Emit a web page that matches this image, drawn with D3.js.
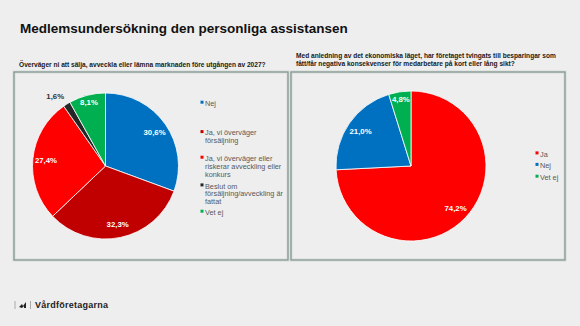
<!DOCTYPE html>
<html>
<head>
<meta charset="utf-8">
<script src="https://cdn.jsdelivr.net/npm/d3@7"></script>
<style>
  html, body { margin: 0; padding: 0; background: #eeeeee; }
  svg { display: block; font-family: "Liberation Sans", Arial, sans-serif; }
</style>
</head>
<body>
<svg id="chart" width="580" height="326"></svg>
<script>
// Survey results: two pie charts
const title = "Medlemsundersökning den personliga assistansen";

const leftQuestion = ["Överväger ni att sälja, avveckla eller lämna marknaden före utgången av 2027?"];
const leftCategories = [
  ["Nej"],
  ["Ja, vi överväger", "försäljning"],
  ["Ja, vi överväger eller", "riskerar avveckling eller", "konkurs"],
  ["Beslut om", "försäljning/avveckling är", "fattat"],
  ["Vet ej"]
];
const leftValues = [30.6, 32.3, 27.4, 1.6, 8.1];
const leftColors = ["#0070c0", "#c00000", "#ff0000", "#262626", "#00b050"];

const rightQuestion = [
  "Med anledning av det ekonomiska läget, har företaget tvingats till besparingar som",
  "fått/får negativa konsekvenser för medarbetare på kort eller lång sikt?"
];
const rightCategories = [["Ja"], ["Nej"], ["Vet ej"]];
const rightValues = [74.2, 21.0, 4.8];
const rightColors = ["#ff0000", "#0070c0", "#00b050"];

const svg = d3.select("#chart");
const fmt = v => d3.format(".1f")(v).replace(".", ",") + "%";

// Heading
svg.append("text")
  .attr("x", 20).attr("y", 33)
  .attr("font-size", 13.5).attr("font-weight", "bold").attr("fill", "#111")
  .text(title);

function drawPanel(opts) {
  const g = svg.append("g");
  // frame
  g.append("rect")
    .attr("x", opts.box[0]).attr("y", opts.box[1])
    .attr("width", opts.box[2]).attr("height", opts.box[3])
    .attr("fill", "none").attr("stroke", "#d6dcda").attr("stroke-width", 3);
  g.append("rect")
    .attr("x", opts.box[0]).attr("y", opts.box[1])
    .attr("width", opts.box[2]).attr("height", opts.box[3])
    .attr("fill", "none").attr("stroke", "#7f948e").attr("stroke-width", 1.2);

  // question text
  g.selectAll("text.q").data(opts.question).join("text")
    .attr("class", "q")
    .attr("x", opts.qx)
    .attr("y", (d, i) => opts.qy + i * 8.8)
    .attr("font-size", 6.6).attr("font-weight", "bold").attr("fill", "#1a1a1a")
    .text(d => d);

  const pie = d3.pie().sort(null).value(d => d)(opts.values);
  const arc = d3.arc().innerRadius(0).outerRadius(opts.r);
  const pg = g.append("g").attr("transform", `translate(${opts.cx},${opts.cy})`);
  pg.selectAll("path").data(pie).join("path")
    .attr("d", arc)
    .attr("fill", (d, i) => opts.colors[i])
    .attr("stroke", "#ffffff").attr("stroke-width", 0.8);

  // value labels
  pg.selectAll("text.v").data(pie).join("text")
    .attr("class", "v")
    .each(function (d) {
      const share = d.data / 100;
      const mid = (d.startAngle + d.endAngle) / 2;
      const t = d3.select(this);
      if (share < 0.03) {
        const rr = opts.r * 1.12;
        t.attr("x", Math.sin(mid) * rr + 2).attr("y", -Math.cos(mid) * rr + 2.5)
          .attr("text-anchor", "end").attr("fill", "#333");
      } else {
        const rr = opts.r * (share < 0.1 ? 0.9 : 0.82);
        t.attr("x", Math.sin(mid) * rr).attr("y", -Math.cos(mid) * rr + 2.8)
          .attr("text-anchor", "middle").attr("fill", "#ffffff");
      }
    })
    .attr("font-size", 7.8).attr("font-weight", "bold")
    .text(d => fmt(d.data));

  // legend
  const lg = g.append("g");
  opts.categories.forEach((lines, i) => {
    const y0 = opts.legendY[i];
    lg.append("rect")
      .attr("x", opts.lx - 4.5).attr("y", y0 - 2.6)
      .attr("width", 3).attr("height", 3)
      .attr("fill", opts.colors[i]);
    lines.forEach((s, j) => {
      lg.append("text")
        .attr("x", opts.lx).attr("y", y0 + 2.5 + j * 7.9)
        .attr("font-size", 7.3).attr("fill", "#595959")
        .text(s);
    });
  });
}

drawPanel({
  box: [14, 72, 274, 188],
  question: leftQuestion, qx: 19, qy: 67,
  values: leftValues, colors: leftColors, categories: leftCategories,
  cx: 105.5, cy: 166, r: 73,
  lx: 205, legendY: [103.3, 132.7, 158.3, 186, 212.3]
});

drawPanel({
  box: [291, 72, 274, 188],
  question: rightQuestion, qx: 296, qy: 57.5,
  values: rightValues, colors: rightColors, categories: rightCategories,
  cx: 411, cy: 166, r: 75,
  lx: 540, legendY: [154, 165.5, 177.3]
});

// Footer brand mark
const foot = svg.append("g").attr("transform", "translate(15,305)");
foot.append("line").attr("x1", 0).attr("x2", 0).attr("y1", -4).attr("y2", 4)
  .attr("stroke", "#999").attr("stroke-width", 0.8);
foot.append("path")
  .attr("d", "M4,2 L7,-1 L8,1 L11,-3 L11,3 L9,3 L9,1 L7,3 Z")
  .attr("fill", "#222");
foot.append("line").attr("x1", 15.5).attr("x2", 15.5).attr("y1", -4).attr("y2", 4)
  .attr("stroke", "#999").attr("stroke-width", 0.8);
foot.append("text").attr("x", 20).attr("y", 3.2)
  .attr("font-size", 9).attr("font-weight", "bold").attr("fill", "#222")
  .attr("letter-spacing", 0.25)
  .text("Vårdföretagarna");
</script>
</body>
</html>
